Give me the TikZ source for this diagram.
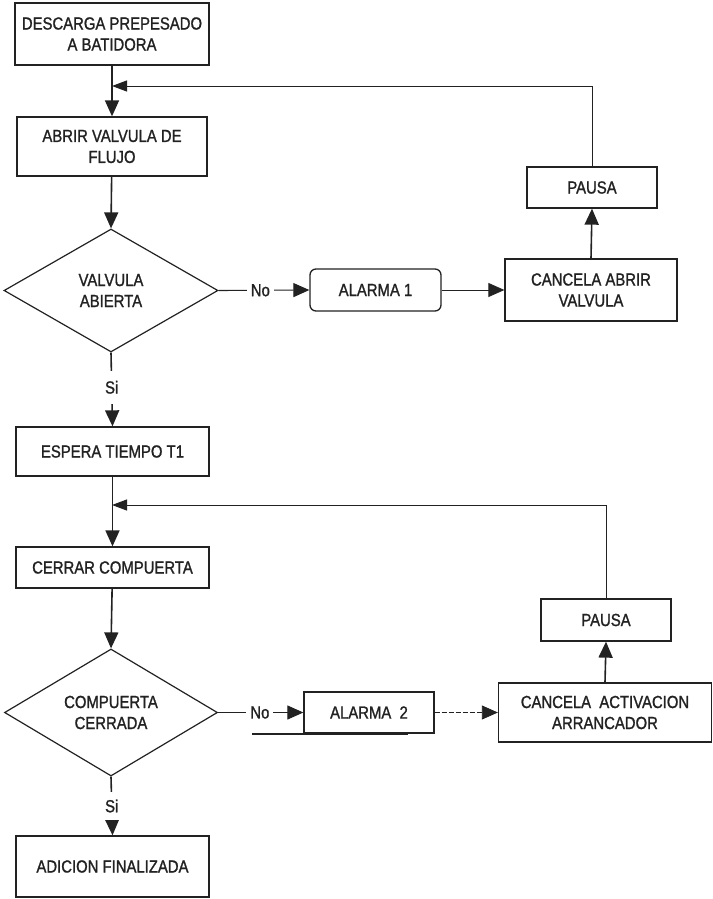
\documentclass[tikz,border=0pt]{standalone}
\usepackage{fontspec}
\setmainfont[FakeStretch=0.85,FakeBold=1.2]{Liberation Sans}
\usetikzlibrary{arrows.meta,shapes.geometric}
\definecolor{ink}{HTML}{222222}
\begin{document}
\begin{tikzpicture}[x=1pt,y=1pt,
  every node/.style={font=\fontsize{17.5}{21}\selectfont, text=ink},
  stepbox/.style={draw=ink, line width=1.3pt, align=center, inner sep=0pt},
  alarmbox/.style={stepbox, rounded corners=6pt},
  decision/.style={diamond, draw=ink, line width=1.2pt, align=center, inner sep=0pt},
  flow/.style={draw=ink, line width=1.6pt, -{Triangle[length=16pt,width=14pt]}},
  side/.style={draw=ink, line width=1.1pt, -{Triangle[length=16pt,width=14pt]}},
  back/.style={draw=ink, line width=1pt, -{Triangle[length=15pt,width=11pt]}},
  notag/.style={fill=white, inner xsep=4pt, inner ysep=2pt},
  sitag/.style={fill=white, inner xsep=2pt}
]
\useasboundingbox (0,0) rectangle (712,-899);
\fill[white] (0,0) rectangle (712,-899);

% ---- first block: valve ----
\node[stepbox, minimum width=194pt, minimum height=62pt] (b1) at (112,-34) {DESCARGA PREPESADO\\A BATIDORA};
\node[stepbox, minimum width=190pt, minimum height=59pt] (b2) at (112,-146.5) {ABRIR VALVULA DE\\FLUJO};
\node[decision, minimum width=214pt, minimum height=123pt] (d1) at (111,-290.5) {VALVULA\\ABIERTA};
\node[alarmbox, minimum width=131pt, minimum height=42pt] (a1) at (375.5,-290) {ALARMA 1};
\node[stepbox, minimum width=172pt, minimum height=62pt] (c1) at (591,-290) {CANCELA ABRIR\\VALVULA};
\node[stepbox, minimum width=130pt, minimum height=41pt] (p1) at (592,-187.5) {PAUSA};
\coordinate (j1) at (112,-86);

% ---- second block: gate ----
\node[stepbox, minimum width=193pt, minimum height=49pt] (b3) at (112.5,-451.5) {ESPERA TIEMPO T1};
\node[stepbox, minimum width=193pt, minimum height=41pt] (b4) at (112.5,-567.5) {CERRAR COMPUERTA};
\node[decision, minimum width=213pt, minimum height=121pt] (d2) at (111,-712.5) {COMPUERTA\\CERRADA};
\node[stepbox, minimum width=130pt, minimum height=41pt] (a2) at (369,-712.5) {ALARMA\ \ 2};
\node[stepbox, minimum width=213pt, minimum height=59pt] (c2) at (605,-712.5) {CANCELA\ \ ACTIVACION\\ARRANCADOR};
\node[stepbox, minimum width=130pt, minimum height=42pt] (p2) at (606,-620) {PAUSA};
\node[stepbox, minimum width=193pt, minimum height=61pt] (b5) at (112.5,-866.5) {ADICION FINALIZADA};
\coordinate (j2) at (112,-505);

% ---- main flow ----
\draw[flow] (b1) -- (b2);
\draw[flow] (b2) -- (d1.north);
\draw[flow] (d1.south) -- node[sitag, pos=0.47, inner ysep=10pt] {Si} (b3.north);
\draw[flow] (b3) -- (b4);
\draw[flow] (b4) -- (d2.north);
\draw[flow] (d2.south) -- node[sitag, pos=0.5, inner ysep=8pt] {Si} (b5.north);

% ---- alarm branches ----
\draw[side] (d1.east) -- node[notag, pos=0.46] {No} (a1.west);
\draw[side, line width=0.8pt] (a1.east) -- (c1.west);
\draw[flow] (c1.north) -- (p1.south);
\draw[back] (p1.north) |- (j1);

\draw[side] (d2.east) -- node[notag, pos=0.49] {No} (a2.west);
\draw[side, line width=0.8pt, dash pattern=on 5pt off 2pt] (a2.east) -- (c2.west);
\draw[flow] (c2.north) -- (p2.south);
\draw[back] (p2.north) |- (j2);
\draw[ink, line width=2pt] ([xshift=-51pt]a2.south west) -- ([xshift=-27pt]a2.south east);
\end{tikzpicture}
\end{document}
